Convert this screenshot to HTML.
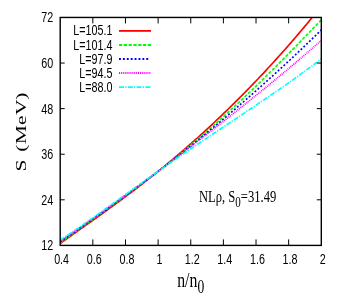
<!DOCTYPE html><html><head><meta charset="utf-8"><style>html,body{margin:0;padding:0;background:#fff}svg{display:block;will-change:transform}text{font-family:"Liberation Sans",sans-serif;fill:#000}.s{font-family:"Liberation Serif",serif}</style></head><body>
<svg width="338" height="305" viewBox="0 0 338 305">
<rect width="338" height="305" fill="#fff"/>
<defs><clipPath id="c"><rect x="60.2" y="17.4" width="261.1" height="228.0"/></clipPath></defs>
<g clip-path="url(#c)" fill="none" stroke-width="1.65">
<polyline stroke="#ff0000" points="60.20,243.48 61.83,242.30 63.46,241.13 65.10,239.96 66.73,238.80 68.36,237.64 69.99,236.48 71.62,235.32 73.26,234.16 74.89,233.01 76.52,231.85 78.15,230.70 79.78,229.54 81.41,228.39 83.05,227.24 84.68,226.08 86.31,224.93 87.94,223.77 89.57,222.62 91.21,221.46 92.84,220.31 94.47,219.15 96.10,217.99 97.73,216.82 99.37,215.66 101.00,214.49 102.63,213.33 104.26,212.16 105.89,210.98 107.52,209.81 109.16,208.63 110.79,207.45 112.42,206.26 114.05,205.07 115.68,203.88 117.32,202.69 118.95,201.49 120.58,200.28 122.21,199.08 123.84,197.87 125.48,196.65 127.11,195.43 128.74,194.21 130.37,192.98 132.00,191.75 133.63,190.51 135.27,189.27 136.90,188.03 138.53,186.78 140.16,185.52 141.79,184.26 143.43,182.99 145.06,181.72 146.69,180.44 148.32,179.16 149.95,177.87 151.59,176.58 153.22,175.28 154.85,173.98 156.48,172.67 158.11,171.35 159.74,170.03 161.38,168.71 163.01,167.37 164.64,166.04 166.27,164.69 167.90,163.34 169.54,161.99 171.17,160.62 172.80,159.26 174.43,157.88 176.06,156.50 177.70,155.11 179.33,153.72 180.96,152.32 182.59,150.92 184.22,149.51 185.85,148.09 187.49,146.67 189.12,145.24 190.75,143.80 192.38,142.36 194.01,140.91 195.65,139.45 197.28,137.99 198.91,136.52 200.54,135.05 202.17,133.57 203.81,132.08 205.44,130.58 207.07,129.08 208.70,127.58 210.33,126.06 211.96,124.54 213.60,123.01 215.23,121.48 216.86,119.94 218.49,118.39 220.12,116.84 221.76,115.28 223.39,113.71 225.02,112.14 226.65,110.56 228.28,108.97 229.92,107.38 231.55,105.78 233.18,104.17 234.81,102.56 236.44,100.94 238.07,99.31 239.71,97.68 241.34,96.04 242.97,94.39 244.60,92.73 246.23,91.07 247.87,89.40 249.50,87.73 251.13,86.04 252.76,84.35 254.39,82.65 256.03,80.95 257.66,79.24 259.29,77.52 260.92,75.79 262.55,74.06 264.18,72.32 265.82,70.57 267.45,68.81 269.08,67.05 270.71,65.27 272.34,63.49 273.98,61.71 275.61,59.91 277.24,58.11 278.87,56.30 280.50,54.48 282.14,52.65 283.77,50.81 285.40,48.97 287.03,47.12 288.66,45.25 290.29,43.38 291.93,41.51 293.56,39.62 295.19,37.72 296.82,35.82 298.45,33.90 300.09,31.98 301.72,30.04 303.35,28.10 304.98,26.15 306.61,24.19 308.25,22.21 309.88,20.23 311.51,18.24 313.14,16.24 314.77,14.22 316.40,12.20 318.04,10.16 319.67,8.12 321.30,6.06"/>
<polyline stroke="#00ff00" stroke-dasharray="3.2,1.6" points="60.20,242.63 61.83,241.44 63.46,240.25 65.10,239.06 66.73,237.88 68.36,236.70 69.99,235.52 71.62,234.35 73.26,233.18 74.89,232.01 76.52,230.84 78.15,229.67 79.78,228.51 81.41,227.34 83.05,226.18 84.68,225.02 86.31,223.86 87.94,222.70 89.57,221.54 91.21,220.38 92.84,219.22 94.47,218.06 96.10,216.90 97.73,215.74 99.37,214.58 101.00,213.42 102.63,212.26 104.26,211.09 105.89,209.93 107.52,208.76 109.16,207.60 110.79,206.43 112.42,205.26 114.05,204.09 115.68,202.91 117.32,201.74 118.95,200.56 120.58,199.38 122.21,198.20 123.84,197.01 125.48,195.83 127.11,194.64 128.74,193.44 130.37,192.25 132.00,191.05 133.63,189.84 135.27,188.64 136.90,187.43 138.53,186.22 140.16,185.00 141.79,183.78 143.43,182.55 145.06,181.33 146.69,180.09 148.32,178.86 149.95,177.62 151.59,176.37 153.22,175.13 154.85,173.87 156.48,172.62 158.11,171.35 159.74,170.09 161.38,168.82 163.01,167.54 164.64,166.26 166.27,164.98 167.90,163.69 169.54,162.39 171.17,161.09 172.80,159.79 174.43,158.47 176.06,157.16 177.70,155.84 179.33,154.51 180.96,153.18 182.59,151.85 184.22,150.50 185.85,149.16 187.49,147.81 189.12,146.45 190.75,145.09 192.38,143.72 194.01,142.34 195.65,140.96 197.28,139.58 198.91,138.19 200.54,136.79 202.17,135.39 203.81,133.98 205.44,132.57 207.07,131.15 208.70,129.73 210.33,128.30 211.96,126.86 213.60,125.42 215.23,123.98 216.86,122.52 218.49,121.07 220.12,119.60 221.76,118.13 223.39,116.66 225.02,115.18 226.65,113.70 228.28,112.21 229.92,110.71 231.55,109.21 233.18,107.70 234.81,106.19 236.44,104.67 238.07,103.15 239.71,101.62 241.34,100.09 242.97,98.55 244.60,97.01 246.23,95.46 247.87,93.91 249.50,92.35 251.13,90.79 252.76,89.22 254.39,87.64 256.03,86.07 257.66,84.48 259.29,82.90 260.92,81.31 262.55,79.71 264.18,78.11 265.82,76.50 267.45,74.89 269.08,73.28 270.71,71.66 272.34,70.04 273.98,68.41 275.61,66.78 277.24,65.15 278.87,63.51 280.50,61.87 282.14,60.23 283.77,58.58 285.40,56.93 287.03,55.27 288.66,53.61 290.29,51.95 291.93,50.29 293.56,48.62 295.19,46.95 296.82,45.27 298.45,43.60 300.09,41.92 301.72,40.24 303.35,38.55 304.98,36.87 306.61,35.18 308.25,33.49 309.88,31.80 311.51,30.10 313.14,28.41 314.77,26.71 316.40,25.01 318.04,23.32 319.67,21.61 321.30,19.91"/>
<polyline stroke="#0000ff" stroke-dasharray="1.9,2.0" points="60.20,241.86 61.83,240.72 63.46,239.57 65.10,238.43 66.73,237.29 68.36,236.15 69.99,235.00 71.62,233.86 73.26,232.72 74.89,231.58 76.52,230.44 78.15,229.29 79.78,228.15 81.41,227.01 83.05,225.86 84.68,224.72 86.31,223.57 87.94,222.42 89.57,221.28 91.21,220.13 92.84,218.98 94.47,217.83 96.10,216.67 97.73,215.52 99.37,214.36 101.00,213.21 102.63,212.05 104.26,210.89 105.89,209.73 107.52,208.56 109.16,207.40 110.79,206.23 112.42,205.06 114.05,203.89 115.68,202.72 117.32,201.54 118.95,200.37 120.58,199.19 122.21,198.01 123.84,196.82 125.48,195.64 127.11,194.45 128.74,193.26 130.37,192.06 132.00,190.87 133.63,189.67 135.27,188.47 136.90,187.26 138.53,186.05 140.16,184.85 141.79,183.63 143.43,182.42 145.06,181.20 146.69,179.98 148.32,178.76 149.95,177.53 151.59,176.30 153.22,175.07 154.85,173.83 156.48,172.60 158.11,171.35 159.74,170.11 161.38,168.86 163.01,167.61 164.64,166.36 166.27,165.10 167.90,163.84 169.54,162.58 171.17,161.31 172.80,160.04 174.43,158.77 176.06,157.49 177.70,156.21 179.33,154.93 180.96,153.65 182.59,152.36 184.22,151.06 185.85,149.77 187.49,148.47 189.12,147.17 190.75,145.86 192.38,144.55 194.01,143.24 195.65,141.92 197.28,140.60 198.91,139.28 200.54,137.95 202.17,136.62 203.81,135.29 205.44,133.96 207.07,132.62 208.70,131.27 210.33,129.92 211.96,128.57 213.60,127.22 215.23,125.86 216.86,124.50 218.49,123.14 220.12,121.77 221.76,120.40 223.39,119.02 225.02,117.65 226.65,116.26 228.28,114.88 229.92,113.49 231.55,112.10 233.18,110.70 234.81,109.30 236.44,107.90 238.07,106.49 239.71,105.08 241.34,103.67 242.97,102.25 244.60,100.83 246.23,99.41 247.87,97.98 249.50,96.55 251.13,95.12 252.76,93.68 254.39,92.24 256.03,90.79 257.66,89.34 259.29,87.89 260.92,86.44 262.55,84.98 264.18,83.51 265.82,82.05 267.45,80.58 269.08,79.10 270.71,77.62 272.34,76.14 273.98,74.66 275.61,73.17 277.24,71.68 278.87,70.18 280.50,68.68 282.14,67.18 283.77,65.67 285.40,64.16 287.03,62.65 288.66,61.13 290.29,59.61 291.93,58.08 293.56,56.55 295.19,55.02 296.82,53.48 298.45,51.94 300.09,50.39 301.72,48.84 303.35,47.29 304.98,45.73 306.61,44.17 308.25,42.61 309.88,41.04 311.51,39.47 313.14,37.89 314.77,36.31 316.40,34.73 318.04,33.14 319.67,31.54 321.30,29.95"/>
<polyline stroke="#ff00ff" stroke-dasharray="1,0.9" points="60.20,241.14 61.83,240.02 63.46,238.90 65.10,237.77 66.73,236.65 68.36,235.52 69.99,234.39 71.62,233.27 73.26,232.14 74.89,231.01 76.52,229.88 78.15,228.75 79.78,227.62 81.41,226.48 83.05,225.35 84.68,224.21 86.31,223.07 87.94,221.93 89.57,220.79 91.21,219.65 92.84,218.51 94.47,217.36 96.10,216.22 97.73,215.07 99.37,213.92 101.00,212.77 102.63,211.62 104.26,210.46 105.89,209.31 107.52,208.15 109.16,206.99 110.79,205.83 112.42,204.67 114.05,203.50 115.68,202.33 117.32,201.17 118.95,200.00 120.58,198.82 122.21,197.65 123.84,196.47 125.48,195.30 127.11,194.12 128.74,192.94 130.37,191.75 132.00,190.57 133.63,189.38 135.27,188.19 136.90,187.00 138.53,185.81 140.16,184.61 141.79,183.42 143.43,182.22 145.06,181.02 146.69,179.82 148.32,178.61 149.95,177.41 151.59,176.20 153.22,174.99 154.85,173.78 156.48,172.57 158.11,171.35 159.74,170.14 161.38,168.92 163.01,167.70 164.64,166.48 166.27,165.25 167.90,164.03 169.54,162.80 171.17,161.57 172.80,160.34 174.43,159.11 176.06,157.88 177.70,156.64 179.33,155.40 180.96,154.16 182.59,152.92 184.22,151.68 185.85,150.44 187.49,149.19 189.12,147.94 190.75,146.69 192.38,145.44 194.01,144.19 195.65,142.94 197.28,141.68 198.91,140.42 200.54,139.16 202.17,137.90 203.81,136.64 205.44,135.38 207.07,134.11 208.70,132.84 210.33,131.58 211.96,130.31 213.60,129.03 215.23,127.76 216.86,126.49 218.49,125.21 220.12,123.93 221.76,122.65 223.39,121.37 225.02,120.09 226.65,118.80 228.28,117.52 229.92,116.23 231.55,114.94 233.18,113.65 234.81,112.35 236.44,111.06 238.07,109.76 239.71,108.46 241.34,107.16 242.97,105.86 244.60,104.56 246.23,103.25 247.87,101.95 249.50,100.64 251.13,99.32 252.76,98.01 254.39,96.70 256.03,95.38 257.66,94.06 259.29,92.74 260.92,91.41 262.55,90.09 264.18,88.76 265.82,87.43 267.45,86.10 269.08,84.76 270.71,83.43 272.34,82.09 273.98,80.74 275.61,79.40 277.24,78.05 278.87,76.70 280.50,75.35 282.14,73.99 283.77,72.63 285.40,71.27 287.03,69.90 288.66,68.54 290.29,67.16 291.93,65.79 293.56,64.41 295.19,63.03 296.82,61.64 298.45,60.25 300.09,58.86 301.72,57.46 303.35,56.06 304.98,54.66 306.61,53.25 308.25,51.84 309.88,50.42 311.51,49.00 313.14,47.57 314.77,46.14 316.40,44.70 318.04,43.26 319.67,41.81 321.30,40.36"/>
<polyline stroke="#00ffff" stroke-dasharray="5,1.2,1.2,1.4" points="60.20,240.06 61.83,239.01 63.46,237.94 65.10,236.87 66.73,235.79 68.36,234.70 69.99,233.61 71.62,232.51 73.26,231.40 74.89,230.29 76.52,229.18 78.15,228.06 79.78,226.93 81.41,225.80 83.05,224.67 84.68,223.53 86.31,222.39 87.94,221.25 89.57,220.10 91.21,218.95 92.84,217.80 94.47,216.64 96.10,215.49 97.73,214.33 99.37,213.17 101.00,212.00 102.63,210.84 104.26,209.68 105.89,208.51 107.52,207.34 109.16,206.17 110.79,205.00 112.42,203.84 114.05,202.67 115.68,201.50 117.32,200.33 118.95,199.16 120.58,197.99 122.21,196.82 123.84,195.65 125.48,194.48 127.11,193.31 128.74,192.15 130.37,190.98 132.00,189.81 133.63,188.65 135.27,187.49 136.90,186.32 138.53,185.16 140.16,184.00 141.79,182.85 143.43,181.69 145.06,180.54 146.69,179.38 148.32,178.23 149.95,177.08 151.59,175.93 153.22,174.78 154.85,173.64 156.48,172.50 158.11,171.35 159.74,170.21 161.38,169.08 163.01,167.94 164.64,166.81 166.27,165.67 167.90,164.54 169.54,163.41 171.17,162.29 172.80,161.16 174.43,160.04 176.06,158.92 177.70,157.80 179.33,156.68 180.96,155.56 182.59,154.45 184.22,153.34 185.85,152.23 187.49,151.12 189.12,150.01 190.75,148.90 192.38,147.80 194.01,146.70 195.65,145.59 197.28,144.49 198.91,143.39 200.54,142.30 202.17,141.20 203.81,140.10 205.44,139.01 207.07,137.92 208.70,136.82 210.33,135.73 211.96,134.64 213.60,133.55 215.23,132.46 216.86,131.37 218.49,130.29 220.12,129.20 221.76,128.11 223.39,127.03 225.02,125.94 226.65,124.85 228.28,123.77 229.92,122.68 231.55,121.59 233.18,120.51 234.81,119.42 236.44,118.33 238.07,117.24 239.71,116.16 241.34,115.07 242.97,113.98 244.60,112.89 246.23,111.79 247.87,110.70 249.50,109.61 251.13,108.51 252.76,107.42 254.39,106.32 256.03,105.22 257.66,104.12 259.29,103.02 260.92,101.91 262.55,100.81 264.18,99.70 265.82,98.59 267.45,97.48 269.08,96.36 270.71,95.25 272.34,94.13 273.98,93.01 275.61,91.88 277.24,90.75 278.87,89.62 280.50,88.49 282.14,87.35 283.77,86.22 285.40,85.07 287.03,83.93 288.66,82.78 290.29,81.63 291.93,80.47 293.56,79.31 295.19,78.15 296.82,76.98 298.45,75.81 300.09,74.63 301.72,73.45 303.35,72.27 304.98,71.08 306.61,69.89 308.25,68.69 309.88,67.49 311.51,66.29 313.14,65.08 314.77,63.86 316.40,62.64 318.04,61.42 319.67,60.19 321.30,58.96"/>
</g>
<rect x="60.20" y="17.45" width="261.10" height="227.95" fill="none" stroke="#000" stroke-width="1.4"/>
<path d="M92.84 245.4v-6M92.84 17.4v6M125.48 245.4v-6M125.48 17.4v6M158.11 245.4v-6M158.11 17.4v6M190.75 245.4v-6M190.75 17.4v6M223.39 245.4v-6M223.39 17.4v6M256.03 245.4v-6M256.03 17.4v6M288.66 245.4v-6M288.66 17.4v6M60.2 199.81h4.5M321.3 199.81h-4.5M60.2 154.22h4.5M321.3 154.22h-4.5M60.2 108.63h4.5M321.3 108.63h-4.5M60.2 63.04h4.5M321.3 63.04h-4.5" stroke="#000" stroke-width="1" fill="none"/>
<text transform="translate(61.60,264.40) scale(0.708,1)" font-size="15.2" text-anchor="middle">0.4</text>
<text transform="translate(94.24,264.40) scale(0.708,1)" font-size="15.2" text-anchor="middle">0.6</text>
<text transform="translate(126.88,264.40) scale(0.708,1)" font-size="15.2" text-anchor="middle">0.8</text>
<text transform="translate(159.51,264.40) scale(0.708,1)" font-size="15.2" text-anchor="middle">1</text>
<text transform="translate(192.15,264.40) scale(0.708,1)" font-size="15.2" text-anchor="middle">1.2</text>
<text transform="translate(224.79,264.40) scale(0.708,1)" font-size="15.2" text-anchor="middle">1.4</text>
<text transform="translate(257.43,264.40) scale(0.708,1)" font-size="15.2" text-anchor="middle">1.6</text>
<text transform="translate(290.06,264.40) scale(0.708,1)" font-size="15.2" text-anchor="middle">1.8</text>
<text transform="translate(322.70,264.40) scale(0.708,1)" font-size="15.2" text-anchor="middle">2</text>
<text transform="translate(53.30,250.30) scale(0.708,1)" font-size="15.2" text-anchor="end">12</text>
<text transform="translate(53.30,204.71) scale(0.708,1)" font-size="15.2" text-anchor="end">24</text>
<text transform="translate(53.30,159.12) scale(0.708,1)" font-size="15.2" text-anchor="end">36</text>
<text transform="translate(53.30,113.53) scale(0.708,1)" font-size="15.2" text-anchor="end">48</text>
<text transform="translate(53.30,67.94) scale(0.708,1)" font-size="15.2" text-anchor="end">60</text>
<text transform="translate(53.30,22.35) scale(0.708,1)" font-size="15.2" text-anchor="end">72</text>
<text transform="translate(112.40,35.40) scale(0.708,1)" font-size="15.2" text-anchor="end">L=105.1</text>
<path d="M119 30.9H151" stroke="#ff0000" stroke-width="1.8" fill="none"/>
<text transform="translate(112.40,49.50) scale(0.708,1)" font-size="15.2" text-anchor="end">L=101.4</text>
<path d="M119 45.0H151" stroke="#00ff00" stroke-width="1.8" stroke-dasharray="3.2,1.6" fill="none"/>
<text transform="translate(112.40,63.50) scale(0.708,1)" font-size="15.2" text-anchor="end">L=97.9</text>
<path d="M119 59.0H150" stroke="#0000ff" stroke-width="1.8" stroke-dasharray="1.9,2.0" fill="none"/>
<text transform="translate(112.40,77.50) scale(0.708,1)" font-size="15.2" text-anchor="end">L=94.5</text>
<path d="M119 73.0H151" stroke="#ff00ff" stroke-width="1.8" stroke-dasharray="1,0.9" fill="none"/>
<text transform="translate(112.40,91.60) scale(0.708,1)" font-size="15.2" text-anchor="end">L=88.0</text>
<path d="M119 87.1H151" stroke="#00ffff" stroke-width="1.8" stroke-dasharray="5,1.2,1.2,1.4" fill="none"/>
<text class="s" transform="translate(198.9,202.2) scale(0.76,1)" font-size="16.6">NLρ, S<tspan font-size="14.5" dy="4.5">0</tspan><tspan dy="-4.5">=31.49</tspan></text>
<text class="s" transform="translate(177.2,286.6) scale(0.735,1)" font-size="21.5">n/n<tspan font-size="18.5" dy="6.6">0</tspan></text>
<text class="s" transform="translate(26.3,165.60) rotate(-90) scale(1,0.69)" font-size="21.5" text-anchor="middle">S</text>
<text class="s" transform="translate(26.3,148.20) rotate(-90) scale(1,0.69)" font-size="21.5" text-anchor="middle">(</text>
<text class="s" transform="translate(26.3,134.80) rotate(-90) scale(1,0.69)" font-size="21.5" text-anchor="middle">M</text>
<text class="s" transform="translate(26.3,120.20) rotate(-90) scale(1,0.69)" font-size="21.5" text-anchor="middle">e</text>
<text class="s" transform="translate(26.3,107.30) rotate(-90) scale(1,0.69)" font-size="21.5" text-anchor="middle">V</text>
<text class="s" transform="translate(26.3,96.20) rotate(-90) scale(1,0.69)" font-size="21.5" text-anchor="middle">)</text>
</svg></body></html>
